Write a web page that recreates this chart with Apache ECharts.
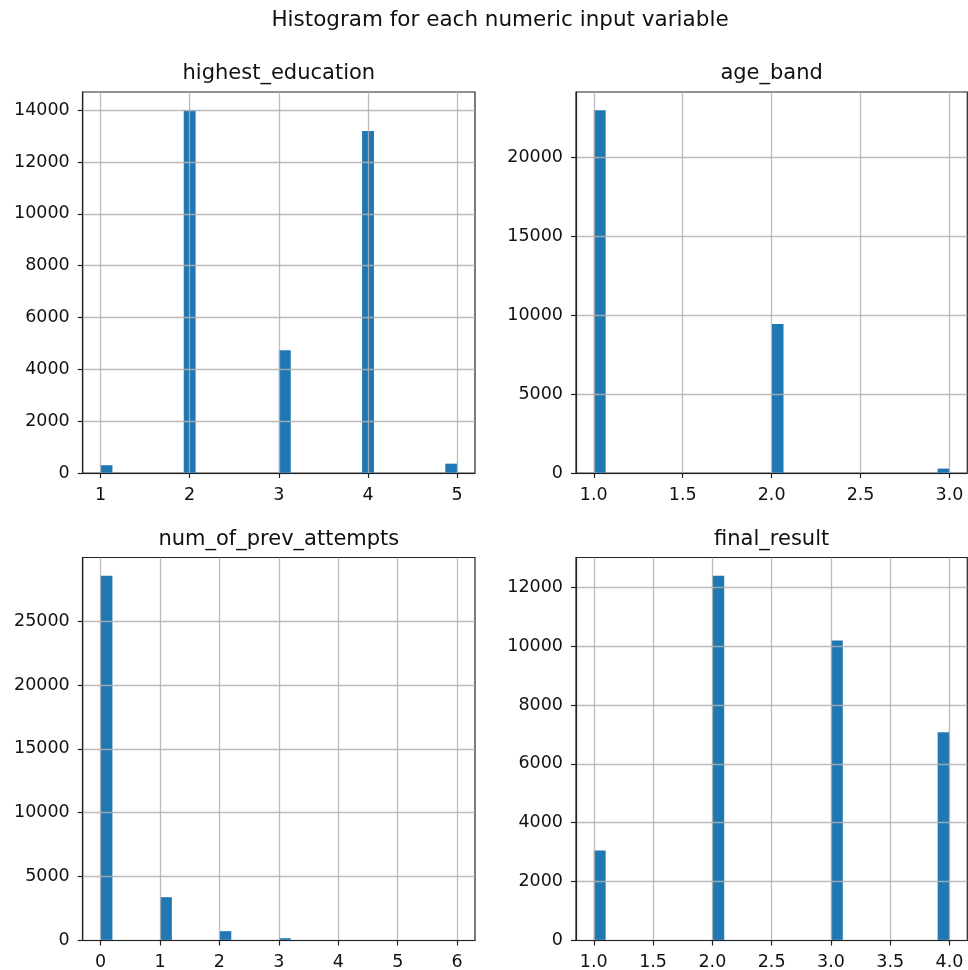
<!DOCTYPE html>
<html>
<head>
<meta charset="utf-8">
<script src="https://cdn.jsdelivr.net/npm/echarts@6/dist/echarts.min.js"></script>
<style>
html,body{margin:0;padding:0;background:#fff;}
#chart{width:968px;height:970px;}
</style>
</head>
<body>
<div id="chart"></div>
<script>
// ---- data ----
const mainTitle = 'Histogram for each numeric input variable';
const panelTitles = ['highest_education', 'age_band', 'num_of_prev_attempts', 'final_result'];

const eduValues = [1, 2, 3, 4, 5];
const eduCounts = [300, 14000, 4740, 13200, 360];

const ageValues = [1, 2, 3];
const ageCounts = [23000, 9450, 280];

const prevValues = [0, 1, 2, 3, 4, 5, 6];
const prevCounts = [28550, 3390, 730, 180, 40, 15, 5];

const finalValues = [1, 2, 3, 4];
const finalCounts = [3060, 12390, 10190, 7070];

const eduXTicks = [1, 2, 3, 4, 5];
const ageXTicks = [1.0, 1.5, 2.0, 2.5, 3.0];
const prevXTicks = [0, 1, 2, 3, 4, 5, 6];
const finalXTicks = [1.0, 1.5, 2.0, 2.5, 3.0, 3.5, 4.0];

const eduYTicks = [0, 2000, 4000, 6000, 8000, 10000, 12000, 14000];
const ageYTicks = [0, 5000, 10000, 15000, 20000];
const prevYTicks = [0, 5000, 10000, 15000, 20000, 25000];
const finalYTicks = [0, 2000, 4000, 6000, 8000, 10000, 12000];

const N_BINS = 30;

// ---- build histogram bins (30 equal bins over the data range, as pandas .hist) ----
function histBins(values, counts) {
  const lo = Math.min(...values), hi = Math.max(...values);
  const w = (hi - lo) / N_BINS;
  return values.map((v, i) => {
    let k = Math.floor((v - lo) / w + 1e-9);
    if (k > N_BINS - 1) k = N_BINS - 1;
    return [lo + k * w, lo + (k + 1) * w, counts[i]];
  });
}
function margins(values, counts) {
  const lo = Math.min(...values), hi = Math.max(...values);
  const pad = (hi - lo) * 0.05;
  return { xmin: lo - pad, xmax: hi + pad, ymax: Math.max(...counts) * 1.05 };
}

const panels = [
  { v: eduValues, c: eduCounts, xt: eduXTicks, yt: eduYTicks, dec: 0 },
  { v: ageValues, c: ageCounts, xt: ageXTicks, yt: ageYTicks, dec: 1 },
  { v: prevValues, c: prevCounts, xt: prevXTicks, yt: prevYTicks, dec: 0 },
  { v: finalValues, c: finalCounts, xt: finalXTicks, yt: finalYTicks, dec: 1 }
];

const gridBoxes = [
  { left: 82.7, top: 92, width: 392.3, height: 381 },
  { left: 576, top: 92, width: 391.3, height: 381 },
  { left: 82.7, top: 557.5, width: 392.3, height: 383 },
  { left: 576, top: 557.5, width: 391.3, height: 383 }
];

const FONT = '"DejaVu Sans", sans-serif';
const spineColor = '#222';
const gridColor = '#b0b0b0';

const grids = [], xAxes = [], yAxes = [], series = [], graphics = [];

panels.forEach((p, i) => {
  const m = margins(p.v, p.c);
  const g = gridBoxes[i];
  grids.push({
    left: g.left, top: g.top, width: g.width, height: g.height,
    show: true, borderColor: spineColor, borderWidth: 1.2,
    containLabel: false, outerBoundsMode: 'none'
  });
  xAxes.push({
    type: 'value', gridIndex: i, min: m.xmin, max: m.xmax, z: 3,
    axisLine: { show: true, onZero: false, lineStyle: { color: spineColor, width: 1.2 } },
    axisTick: { show: true, length: 5, customValues: p.xt, lineStyle: { color: spineColor, width: 1.2 } },
    axisLabel: {
      customValues: p.xt, margin: 13, fontSize: 17.5, fontFamily: FONT, color: '#111',
      formatter: (val) => Number(val).toFixed(p.dec)
    },
    splitLine: { show: true, lineStyle: { color: gridColor, width: 1.3, opacity: 0.85 } }
  });
  yAxes.push({
    type: 'value', gridIndex: i, min: 0, max: m.ymax, z: 3,
    axisLine: { show: true, onZero: false, lineStyle: { color: spineColor, width: 1.2 } },
    axisTick: { show: true, length: 5, customValues: p.yt, lineStyle: { color: spineColor, width: 1.2 } },
    axisLabel: {
      customValues: p.yt, margin: 13, fontSize: 17.5, fontFamily: FONT, color: '#111',
      formatter: (val) => String(Math.round(val))
    },
    splitLine: { show: true, lineStyle: { color: gridColor, width: 1.3, opacity: 0.85 } }
  });
  series.push({
    type: 'custom', xAxisIndex: i, yAxisIndex: i, z: 2,
    data: histBins(p.v, p.c),
    renderItem: function (params, api) {
      const a = api.coord([api.value(0), api.value(2)]);
      const b = api.coord([api.value(1), 0]);
      return {
        type: 'rect',
        shape: { x: a[0], y: a[1], width: b[0] - a[0], height: b[1] - a[1] },
        style: { fill: '#1f77b4' }
      };
    }
  });
  graphics.push({
    type: 'text', x: g.left + g.width / 2, y: g.top - 18,
    style: { text: panelTitles[i], fill: '#111', font: '21px ' + FONT, textAlign: 'center', textVerticalAlign: 'middle' }
  });
});

graphics.push({
  type: 'text', x: 500, y: 20,
  style: { text: mainTitle, fill: '#111', font: '21.5px ' + FONT, textAlign: 'center', textVerticalAlign: 'middle' }
});

const chart = echarts.init(document.getElementById('chart'), null, { renderer: 'canvas' });
chart.setOption({
  backgroundColor: '#fff',
  animation: false,
  grid: grids,
  xAxis: xAxes,
  yAxis: yAxes,
  series: series,
  graphic: graphics
});
</script>
</body>
</html>
